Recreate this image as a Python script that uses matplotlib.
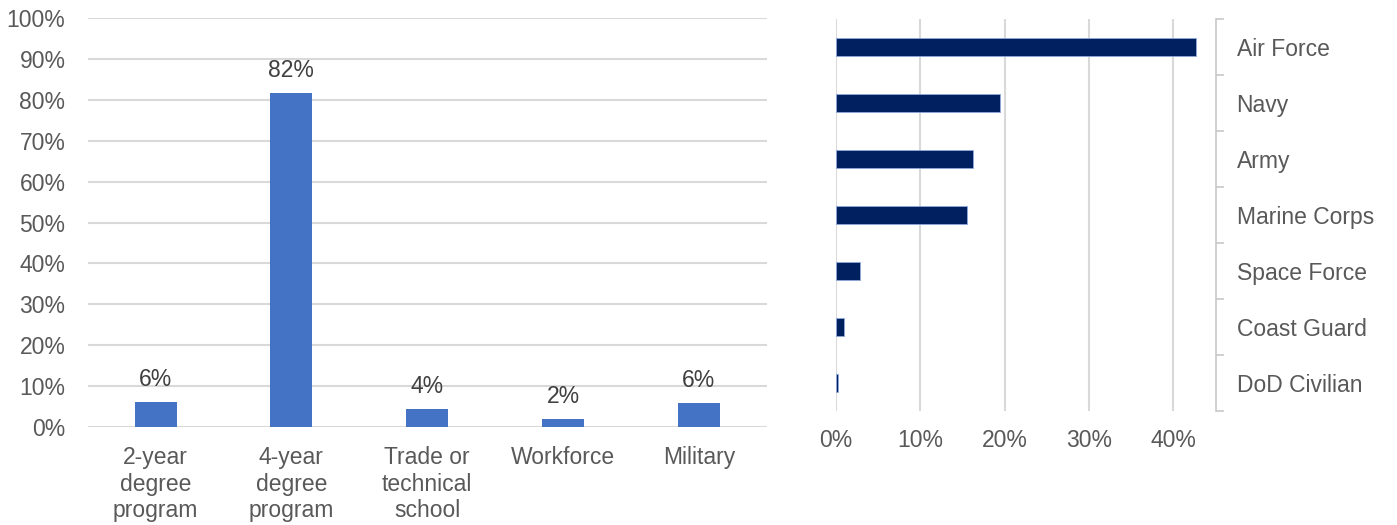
import matplotlib.pyplot as plt
import numpy as np

# left chart: plans after graduation
plan_labels = ['2-year\ndegree\nprogram', '4-year\ndegree\nprogram',
               'Trade or\ntechnical\nschool', 'Workforce', 'Military']
plan_values = [6.0, 81.8, 4.3, 1.9, 5.7]
plan_text = ['6%', '82%', '4%', '2%', '6%']

# right chart: branch
branches = ['Air Force', 'Navy', 'Army', 'Marine Corps', 'Space Force',
            'Coast Guard', 'DoD Civilian']
branch_values = [42.7, 19.4, 16.2, 15.6, 2.9, 1.0, 0.25]

plt.rcParams['font.family'] = ['Liberation Sans', 'DejaVu Sans']
fs = 16.5
txt = '#595959'
grid = '#D9D9D9'

fig = plt.figure(figsize=(13.97, 5.25), dpi=100)

# ---- left: vertical bars
W, H = 1397, 525
ax1 = fig.add_axes([87.7 / W, (H - 426.7) / H, 679 / W, 408.4 / H])
x = np.arange(len(plan_labels))
ax1.bar(x, plan_values, width=0.31, color='#4472C4', zorder=3)
for xi, v, t in zip(x, plan_values, plan_text):
    ax1.annotate(t, (xi, v), xytext=(0, 8), textcoords='offset points',
                 ha='center', va='bottom', fontsize=fs, color='#404040')
ax1.set_xlim(-0.5, len(plan_labels) - 0.5)
ax1.set_ylim(0, 100)
ax1.set_yticks(range(0, 101, 10))
ax1.set_yticklabels([f'{v}%' for v in range(0, 101, 10)])
ax1.set_xticks(x)
ax1.set_xticklabels(plan_labels, linespacing=1.2)
ax1.yaxis.grid(True, color=grid, linewidth=1.5, zorder=0)
ax1.tick_params(axis='y', length=0, pad=16, labelsize=fs, labelcolor=txt)
ax1.tick_params(axis='x', length=0, pad=14, labelsize=fs, labelcolor=txt)
for s in ax1.spines.values():
    s.set_visible(False)

# ---- right: horizontal bars
ax2 = fig.add_axes([835.7 / W, (H - 411) / H, 380 / W, 392 / H])
y = np.arange(len(branches))
ax2.barh(y, [v / 100 for v in branch_values], height=0.33, color='#002060',
         edgecolor='#8EA9DB', linewidth=0.6, zorder=3)
ax2.set_xlim(0, 0.45)
ax2.set_ylim(len(branches) - 0.5, -0.5)
ax2.set_xticks([0, 0.1, 0.2, 0.3, 0.4])
ax2.set_xticklabels(['0%', '10%', '20%', '30%', '40%'])
ax2.xaxis.grid(True, color=grid, linewidth=1.5, zorder=0)
ax2.yaxis.tick_right()
ax2.set_yticks(y)
ax2.set_yticklabels(branches)
ax2.set_yticks(np.arange(-0.5, len(branches)), minor=True)
ax2.tick_params(axis='y', which='major', length=0, pad=15, labelsize=fs,
                labelcolor=txt)
ax2.tick_params(axis='y', which='minor', length=6, width=1.2, color='#C8C8C8',
                right=True, left=False)
ax2.tick_params(axis='x', length=0, pad=13, labelsize=fs, labelcolor=txt)
for k, s in ax2.spines.items():
    s.set_visible(k == 'right')
ax2.spines['right'].set_color('#C8C8C8')
ax2.spines['right'].set_linewidth(1.2)

fig.savefig('out.png', dpi=100)
